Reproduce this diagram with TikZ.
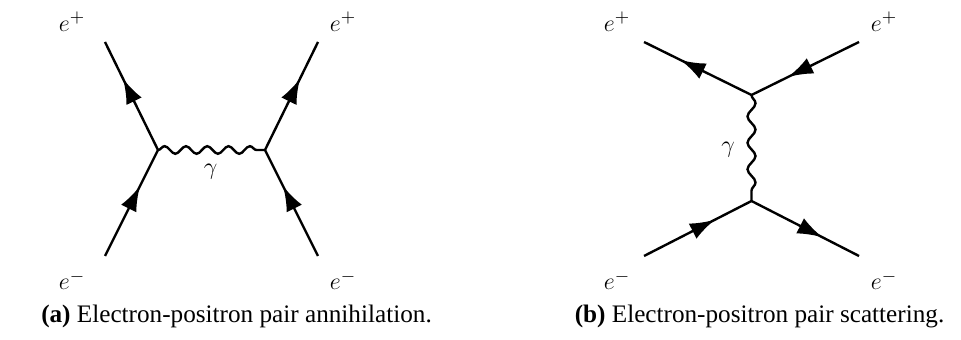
\documentclass[tikz,border=0pt]{standalone}
\usepackage{fontspec}
\newfontfamily\capfont{Liberation Serif}
\usetikzlibrary{arrows.meta,decorations.markings,decorations.pathmorphing}
\tikzset{
  line/.style={line width=1.2pt},
  fermion/.style={line, postaction={decorate}, decoration={markings,
     mark=at position 0.66 with {\arrow{Latex[length=12.5pt,width=8.5pt]}}}},
  photonh/.style={line, decorate, decoration={snake, segment length=10.65pt, amplitude=1.9pt}},
  photonv/.style={line, decorate, decoration={snake, segment length=13.2pt, amplitude=2pt}},
  lbl/.style={inner sep=0pt, font=\fontsize{13}{15}\selectfont},
  captext/.style={inner sep=0pt, font=\fontsize{12.6}{15}\selectfont\capfont}
}
\begin{document}
\begin{tikzpicture}[x=0.5pt,y=-0.5pt]
\useasboundingbox (0,0) rectangle (961,340);
% (a) annihilation
\coordinate (a1) at (105,256);
\coordinate (a2) at (105,42);
\coordinate (a3) at (318,42);
\coordinate (a4) at (318,256);
\coordinate (av1) at (158,150);
\coordinate (av2) at (265,150);
\draw[fermion] (a1) -- (av1);
\draw[fermion] (av1) -- (a2);
\draw[fermion] (av2) -- (a3);
\draw[fermion] (a4) -- (av2);
\draw[photonh] (av1) -- (av2);
\node[lbl, anchor=base] (la2) at (72,31.5) {$e^+$};
\node[lbl, anchor=base] (la3) at (343,31.5) {$e^+$};
\node[lbl, anchor=base] (la1) at (72,290) {$e^-$};
\node[lbl, anchor=base] (la4) at (343,290) {$e^-$};
\node[lbl] (lag) at (210.5,172) {$\gamma$};
\node[captext, anchor=base] (capa) at (236.5,323) {\textbf{(a)} Electron-positron pair annihilation.};
% (b) scattering
\coordinate (b1) at (644,256);
\coordinate (b2) at (644,42);
\coordinate (b3) at (859,42);
\coordinate (b4) at (859,256);
\coordinate (bv1) at (751.5,95);
\coordinate (bv2) at (751.5,201);
\draw[fermion] (bv1) -- (b2);
\draw[fermion] (b3) -- (bv1);
\draw[fermion] (b1) -- (bv2);
\draw[fermion] (bv2) -- (b4);
\draw[photonv] (bv1) -- (bv2);
\node[lbl, anchor=base] (lb2) at (617,31.5) {$e^+$};
\node[lbl, anchor=base] (lb3) at (884,31.5) {$e^+$};
\node[lbl, anchor=base] (lb1) at (617,290) {$e^-$};
\node[lbl, anchor=base] (lb4) at (884,290) {$e^-$};
\node[lbl] (lbg) at (728,150) {$\gamma$};
\node[captext, anchor=base] (capb) at (759.5,323) {\textbf{(b)} Electron-positron pair scattering.};
\end{tikzpicture}
\end{document}
